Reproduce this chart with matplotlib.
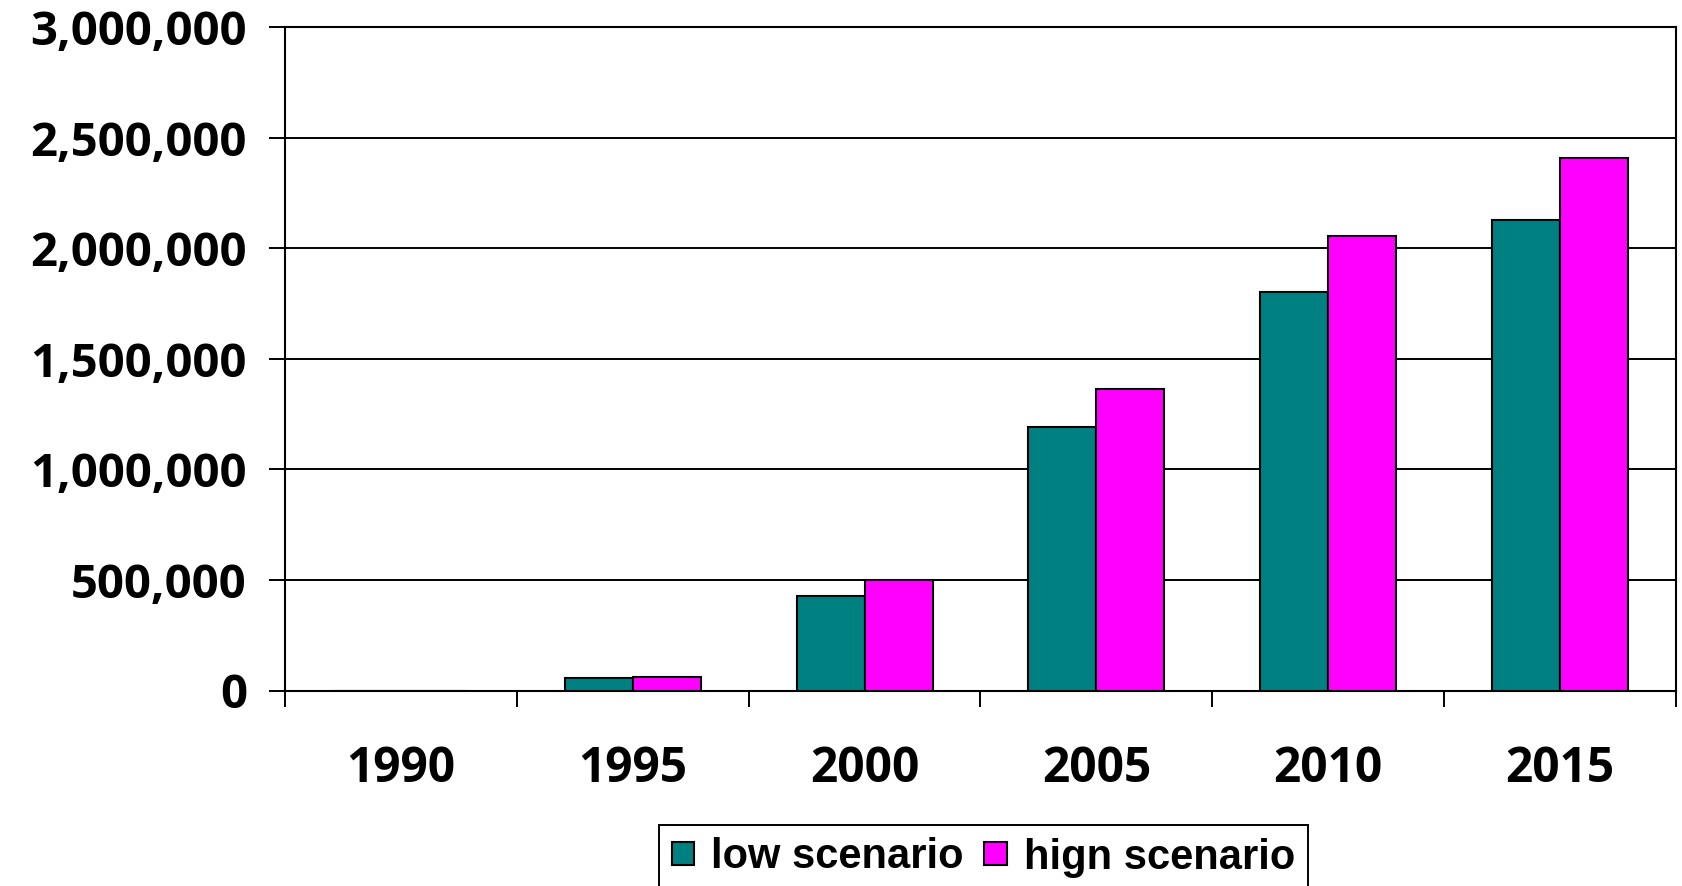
import matplotlib
matplotlib.use("Agg")
import matplotlib.pyplot as plt
from matplotlib.ticker import FuncFormatter, FixedLocator
import numpy as np

years = ["1990", "1995", "2000", "2005", "2010", "2015"]
low_scenario = [0, 55000, 427000, 1190000, 1800000, 2127000]
high_scenario = [0, 63000, 500000, 1363000, 2055000, 2409000]
y_ticks = [0, 500000, 1000000, 1500000, 2000000, 2500000, 3000000]

plt.rcParams["font.family"] = ["Liberation Sans", "DejaVu Sans"]
plt.rcParams["font.weight"] = "bold"

W, H = 1682, 886
fig = plt.figure(figsize=(W / 100, H / 100), dpi=100)
ax = fig.add_axes([285 / W, 1 - 690.5 / H, (1676 - 285) / W, (690.5 - 27) / H])

x = np.arange(len(years))
bw = 0.293
ax.bar(x - bw / 2, low_scenario, bw, color="#008080", edgecolor="black",
       linewidth=1.5, label="low scenario", zorder=3)
ax.bar(x + bw / 2, high_scenario, bw, color="#FF00FF", edgecolor="black",
       linewidth=1.5, label="hign scenario", zorder=3)

ax.set_xlim(-0.5, len(years) - 0.5)
ax.set_ylim(0, 3000000)
ax.set_yticks(y_ticks)
ax.yaxis.set_major_formatter(FuncFormatter(lambda v, p: f"{v:,.0f}"))
ax.yaxis.grid(True, color="black", linewidth=1.4, zorder=1)

ax.set_xticks(x)
ax.set_xticklabels(years)
ax.xaxis.set_minor_locator(FixedLocator(np.arange(-0.5, len(years), 1.0)))
ax.tick_params(axis="x", which="major", length=0, pad=39)
ax.tick_params(axis="x", which="minor", length=11.5, width=1.4, direction="out")
ax.tick_params(axis="y", which="major", length=11.5, width=1.4, direction="out",
               pad=16)

tick_family = ["Open Sans", "DejaVu Sans"]
for lab in ax.get_xticklabels():
    lab.set_fontfamily(tick_family)
    lab.set_fontweight("bold")
    lab.set_fontsize(34.5)
for lab in ax.get_yticklabels():
    lab.set_fontfamily(tick_family)
    lab.set_fontweight("bold")
    lab.set_fontsize(34)

for s in ax.spines.values():
    s.set_color("black")
    s.set_linewidth(1.5)

fig.legend(loc="upper left", bbox_to_anchor=(659 / W, 1 - 825 / H),
           ncol=2, fontsize=30, frameon=True, fancybox=False, shadow=False,
           edgecolor="black", framealpha=1, borderpad=0.3, borderaxespad=0,
           handlelength=0.55, handleheight=0.48, handletextpad=0.4,
           columnspacing=0.5)
fig.legends[0].get_frame().set_linewidth(1.4)

fig.savefig("out.png", dpi=100, facecolor="white")
